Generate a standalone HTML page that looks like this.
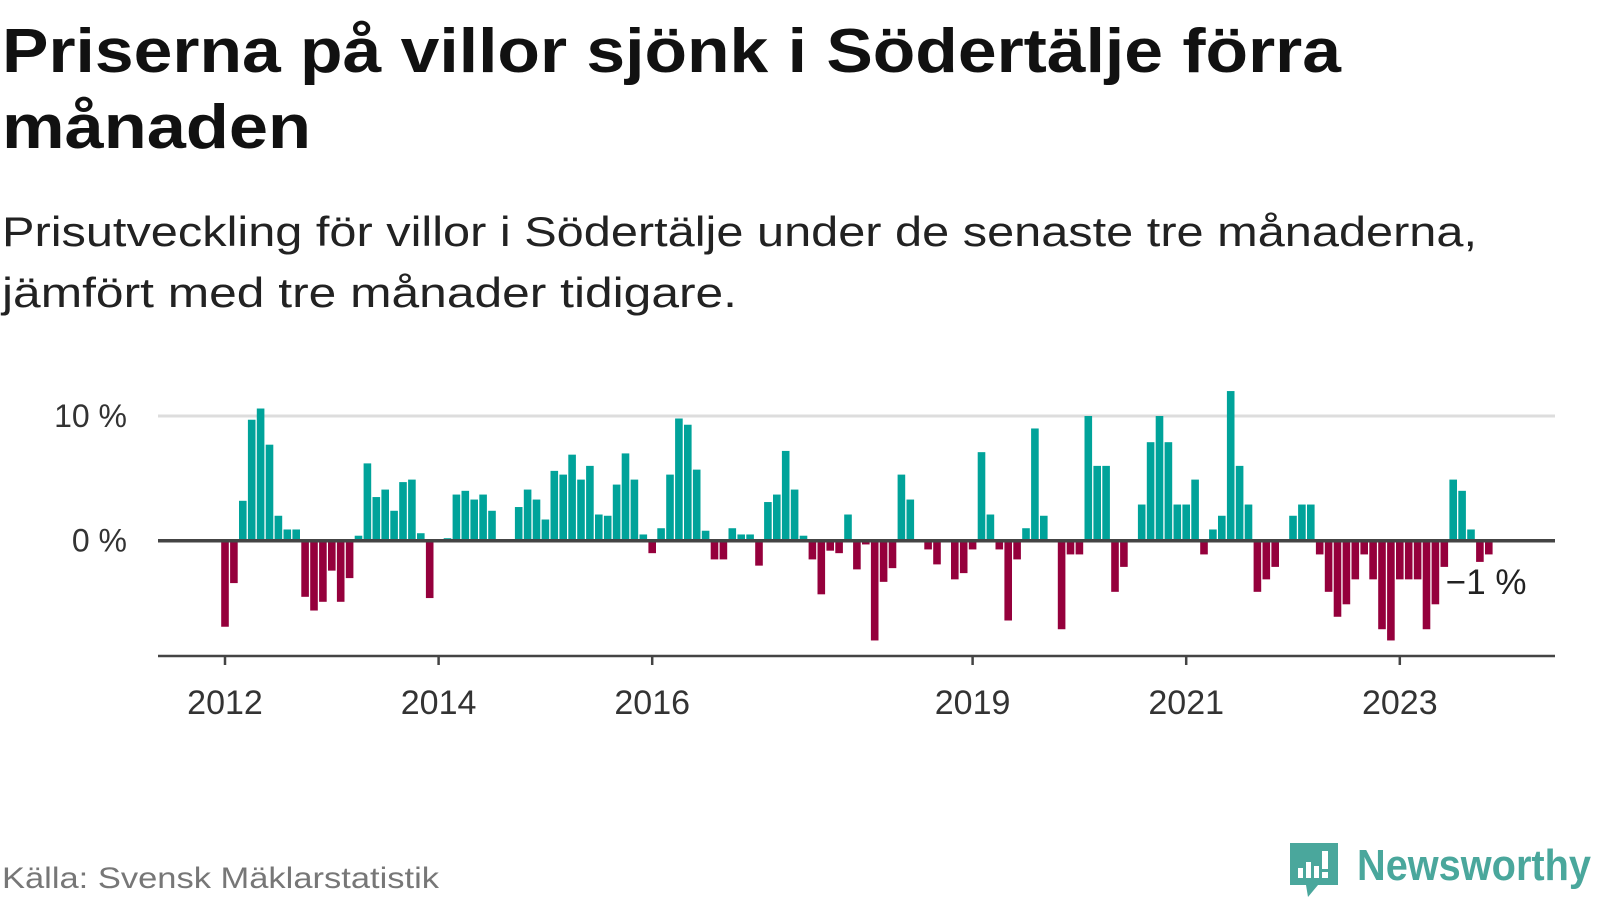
<!DOCTYPE html>
<html><head><meta charset="utf-8"><style>
html,body{margin:0;padding:0;background:#fff;}
svg{display:block;font-family:"Liberation Sans",sans-serif;}
</style></head><body>
<svg id="chart" width="1600" height="900" viewBox="0 0 1600 900">
<text x="2" y="72" font-size="62" font-weight="bold" fill="#111" textLength="1339" lengthAdjust="spacingAndGlyphs">Priserna på villor sjönk i Södertälje förra</text>
<text x="2" y="148" font-size="62" font-weight="bold" fill="#111" textLength="309" lengthAdjust="spacingAndGlyphs">månaden</text>
<text x="2" y="246" font-size="42" fill="#222" textLength="1475" lengthAdjust="spacingAndGlyphs">Prisutveckling för villor i Södertälje under de senaste tre månaderna,</text>
<text x="2" y="307" font-size="42" fill="#222" textLength="735" lengthAdjust="spacingAndGlyphs">jämfört med tre månader tidigare.</text>
<g id="plot"></g>
<text x="2" y="888" font-size="30" fill="#777" textLength="437" lengthAdjust="spacingAndGlyphs">Källa: Svensk Mäklarstatistik</text>
<g>
<path d="M1290 843 H1338 V885 H1318 L1308 897 L1306 885 H1290 Z" fill="#4aa79c"/>
<rect x="1298" y="868" width="5" height="10" fill="#fff"/>
<rect x="1306" y="862" width="5" height="16" fill="#fff"/>
<rect x="1314" y="866" width="5" height="12" fill="#fff"/>
<rect x="1322" y="851" width="6" height="18" fill="#fff"/>
<rect x="1322" y="872" width="6" height="6" fill="#fff"/>
<text x="1357" y="880" font-size="44" font-weight="bold" fill="#4aa79c" textLength="234" lengthAdjust="spacingAndGlyphs">Newsworthy</text>
</g>
</svg>
<script>
const values = [-6.9,-3.4,3.2,9.7,10.6,7.7,2.0,0.9,0.9,-4.5,-5.6,-4.9,-2.4,-4.9,-3.0,0.4,6.2,3.5,4.1,2.4,4.7,4.9,0.6,-4.6,null,0.2,3.7,4.0,3.3,3.7,2.4,null,null,2.7,4.1,3.3,1.7,5.6,5.3,6.9,4.9,6.0,2.1,2.0,4.5,7.0,4.9,0.5,-1.0,1.0,5.3,9.8,9.3,5.7,0.8,-1.5,-1.5,1.0,0.5,0.5,-2.0,3.1,3.7,7.2,4.1,0.4,-1.5,-4.3,-0.8,-1.0,2.1,-2.3,-0.3,-8.0,-3.3,-2.2,5.3,3.3,null,-0.7,-1.9,null,-3.1,-2.6,-0.7,7.1,2.1,-0.7,-6.4,-1.5,1.0,9.0,2.0,null,-7.1,-1.1,-1.1,10.0,6.0,6.0,-4.1,-2.1,null,2.9,7.9,10.0,7.9,2.9,2.9,4.9,-1.1,0.9,2.0,12.0,6.0,2.9,-4.1,-3.1,-2.1,null,2.0,2.9,2.9,-1.1,-4.1,-6.1,-5.1,-3.1,-1.1,-3.1,-7.1,-8.0,-3.1,-3.1,-3.1,-7.1,-5.1,-2.1,4.9,4.0,0.9,-1.7,-1.1];
const yTicks = [0, 10];
const yTickLabels = ["0 %", "10 %"];
const xTickIndex = [0, 24, 48, 84, 108, 132];
const xTickLabels = ["2012", "2014", "2016", "2019", "2021", "2023"];
const lastLabel = "−1 %";

const NS = "http://www.w3.org/2000/svg";
const plot = document.getElementById("plot");
const x = i => 225 + i * 8.9;
const y = v => 540.7 - v * 12.47;
function mk(tag, attrs){const e=document.createElementNS(NS,tag);for(const k in attrs)e.setAttribute(k,attrs[k]);plot.appendChild(e);return e;}

yTicks.forEach((t,k)=>{
  if(t!==0){const g=mk("line",{x1:158,x2:1555,y1:y(t),y2:y(t),stroke:"#dddddd","stroke-width":3});
  
  }
  const l=mk("text",{x:127,y:y(t)+11,"font-size":32,"text-anchor":"end",fill:"#333"});
  l.textContent=yTickLabels[k];
  
  
});
values.forEach((v,i)=>{
  if(v===null) return;
  const top = v>=0 ? y(v) : y(0);
  const h = Math.abs(y(v)-y(0));
  const r=mk("rect",{x:x(i)-3.8,y:top,width:7.6,height:h,fill:v>=0?"#00a39a":"#95003c"});
  
  
});
const z=mk("line",{x1:158,x2:1555,y1:y(0),y2:y(0),stroke:"#444","stroke-width":3.5});


const ax=mk("line",{x1:158,x2:1555,y1:656,y2:656,stroke:"#444","stroke-width":2.5});


xTickIndex.forEach((idx,k)=>{
  const t=mk("line",{x1:x(idx),x2:x(idx),y1:656,y2:665,stroke:"#444","stroke-width":2.5});
  
  
  const l=mk("text",{x:x(idx),y:714,"font-size":34,"text-anchor":"middle",fill:"#333"});
  l.textContent=xTickLabels[k];
  
  
});
const last=values.length-1;
const ll=mk("text",{x:x(last)-43,y:594,"font-size":35,fill:"#222"});
ll.textContent=lastLabel;


</script>
</body></html>
